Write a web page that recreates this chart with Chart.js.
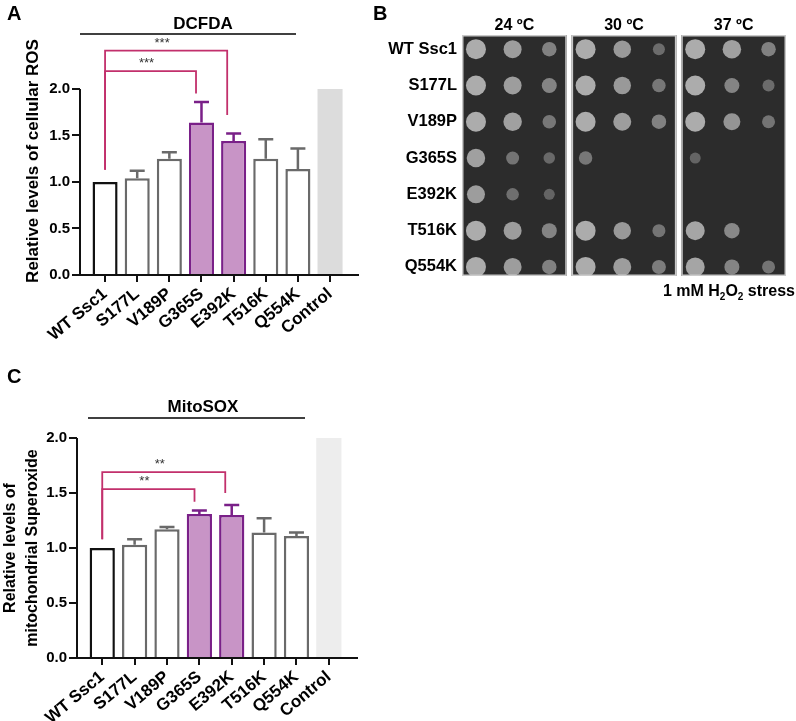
<!DOCTYPE html>
<html>
<head>
<meta charset="utf-8">
<script src="https://cdn.jsdelivr.net/npm/chart.js@4.4.1/dist/chart.umd.min.js"></script>
<style>
  body { margin: 0; background: #fff; width: 796px; height: 721px; position: relative; overflow: hidden; font-family: 'Liberation Sans', Arial, sans-serif; }
  canvas { position: absolute; }
  .panel { position: absolute; font-weight: bold; font-size: 20px; line-height: 20px; color: #000; }
</style>
</head>
<body>
<canvas id="chartA" width="370" height="345" style="left:0;top:0"></canvas>
<canvas id="chartB" width="426" height="300" style="left:370px;top:0"></canvas>
<canvas id="chartC" width="380" height="351" style="left:0;top:370px"></canvas>
<div class="panel" style="left:7px;top:3px">A</div>
<div class="panel" style="left:373px;top:3px">B</div>
<div class="panel" style="left:7px;top:366px">C</div>
<script>
const strains = ['WT Ssc1', 'S177L', 'V189P', 'G365S', 'E392K', 'T516K', 'Q554K', 'Control'];
const yTicks = [0, 0.5, 1.0, 1.5, 2.0];

// DCFDA (panel A)
const rosMean  = [1.00, 1.04, 1.25, 1.64, 1.44, 1.25, 1.14, 2.00];
const rosUpper = [1.00, 1.12, 1.32, 1.86, 1.52, 1.46, 1.36, null];

// MitoSOX (panel C)
const soxMean  = [1.00, 1.03, 1.17, 1.31, 1.30, 1.14, 1.11, 2.00];
const soxUpper = [1.00, 1.08, 1.19, 1.34, 1.39, 1.27, 1.14, null];

// spot assay growth scores per strain, three dilutions (panel B)
const temps = ['24 \u00baC', '30 \u00baC', '37 \u00baC'];
const growth24 = [[1.0, 0.8, 0.45], [1.0, 0.8, 0.5], [1.0, 0.85, 0.35], [0.85, 0.3, 0.15], [0.8, 0.25, 0.1], [1.0, 0.8, 0.5], [1.0, 0.8, 0.45]];
const growth30 = [[1.0, 0.75, 0.2], [1.0, 0.75, 0.35], [1.0, 0.8, 0.45], [0.35, 0, 0], [0, 0, 0], [1.0, 0.75, 0.3], [1.0, 0.8, 0.4]];
const growth37 = [[1.0, 0.85, 0.45], [1.0, 0.5, 0.2], [1.0, 0.7, 0.3], [0.1, 0, 0], [0, 0, 0], [0.9, 0.55, 0.0], [0.9, 0.5, 0.3]];

const PURPLE = '#7a2088', LILAC = '#c894c6', GREY = '#6a6a6a', BLACK = '#111', MAGENTA = '#c2306c';
const borders = [BLACK, GREY, GREY, PURPLE, PURPLE, GREY, GREY, 'rgba(0,0,0,0)'];

const extras = {
  id: 'extras',
  afterDatasetsDraw(chart, args, o) {
    const { ctx, chartArea, scales: { x, y } } = chart;
    ctx.save();
    // error bars
    ctx.lineWidth = 2.5;
    o.upper.forEach((u, i) => {
      if (u == null || u <= o.values[i]) return;
      const px = x.getPixelForValue(i);
      const top = y.getPixelForValue(u);
      ctx.strokeStyle = borders[i];
      ctx.beginPath();
      ctx.moveTo(px, y.getPixelForValue(o.values[i]));
      ctx.lineTo(px, top);
      ctx.moveTo(px - 7.5, top);
      ctx.lineTo(px + 7.5, top);
      ctx.stroke();
    });
    // y axis line up to 2.0
    ctx.strokeStyle = BLACK;
    ctx.lineWidth = 2;
    ctx.beginPath();
    ctx.moveTo(chartArea.left, y.getPixelForValue(0) + 1);
    ctx.lineTo(chartArea.left, y.getPixelForValue(2));
    ctx.stroke();
    // significance brackets
    ctx.strokeStyle = MAGENTA;
    ctx.lineWidth = 1.8;
    ctx.fillStyle = '#333';
    ctx.font = '13px "Liberation Sans", Arial';
    ctx.textAlign = 'center';
    ctx.textBaseline = 'alphabetic';
    o.brackets.forEach(b => {
      const x0 = x.getPixelForValue(b.from), x1 = x.getPixelForValue(b.to);
      const yl = y.getPixelForValue(b.at);
      ctx.beginPath();
      ctx.moveTo(x0, y.getPixelForValue(o.leftDrop));
      ctx.lineTo(x0, yl);
      ctx.lineTo(x1, yl);
      ctx.lineTo(x1, y.getPixelForValue(b.drop));
      ctx.stroke();
      ctx.fillText(b.stars, (x0 + x1) / 2 - 4, yl - 4);
    });
    // group title and line
    ctx.fillStyle = '#000';
    ctx.font = 'bold 17px "Liberation Sans", Arial';
    ctx.textBaseline = 'middle';
    ctx.fillText(o.group, o.groupX, o.groupY);
    ctx.strokeStyle = '#000';
    ctx.lineWidth = 1.5;
    ctx.beginPath();
    ctx.moveTo(o.lineFrom, o.lineY);
    ctx.lineTo(o.lineTo, o.lineY);
    ctx.stroke();
    ctx.restore();
  }
};

function barChart(id, values, upper, yMax, cfg) {
  return new Chart(document.getElementById(id), {
    type: 'bar',
    data: {
      datasets: [{
        data: values.map((v, i) => ({ x: i, y: v })),
        backgroundColor: ['#fff', '#fff', '#fff', LILAC, LILAC, '#fff', '#fff', cfg.controlFill],
        borderColor: borders,
        borderWidth: [2.5, 2.5, 2.5, 2.5, 2.5, 2.5, 2.5, 0],
        borderSkipped: 'bottom',
        categoryPercentage: 1,
        barPercentage: 0.78
      }]
    },
    options: {
      responsive: false,
      animation: false,
      layout: { padding: { top: cfg.top, right: cfg.right, left: 0, bottom: 0 } },
      plugins: {
        legend: { display: false },
        tooltip: { enabled: false },
        extras: {
          values: values, upper: upper, brackets: cfg.brackets, leftDrop: cfg.leftDrop,
          group: cfg.group, groupX: 203, groupY: cfg.groupY,
          lineFrom: cfg.lineFrom, lineTo: cfg.lineTo, lineY: cfg.lineY
        }
      },
      scales: {
        x: {
          type: 'linear',
          offset: false,
          min: -0.78, max: 7.87,
          afterBuildTicks: s => { s.ticks = strains.map((_, i) => ({ value: i })); },
          afterFit: s => { s.height = cfg.xHeight; },
          ticks: {
            callback: v => strains[v],
            autoSkip: false, minRotation: 40, maxRotation: 40,
            color: '#000', padding: 2,
            font: { family: '"Liberation Sans", Arial', size: 17, weight: 'bold' }
          },
          grid: { display: true, offset: false, drawOnChartArea: false, tickLength: 7, tickColor: BLACK, lineWidth: 2 },
          border: { display: true, color: BLACK, width: 2 }
        },
        y: {
          min: 0, max: yMax,
          afterBuildTicks: s => { s.ticks = yTicks.map(v => ({ value: v })); },
          afterFit: s => { s.width = cfg.yWidth; },
          ticks: {
            callback: v => v.toFixed(1),
            color: '#000', padding: 2,
            font: { family: '"Liberation Sans", Arial', size: 15, weight: 'bold' }
          },
          grid: { display: true, drawOnChartArea: false, tickLength: 8, tickColor: BLACK, lineWidth: 2 },
          border: { display: false },
          title: {
            display: true, text: cfg.title, color: '#000',
            font: { family: '"Liberation Sans", Arial', size: cfg.titleSize, weight: 'bold', lineHeight: cfg.titleLH },
            padding: { top: cfg.titlePad, bottom: 0 }
          }
        }
      }
    },
    plugins: [extras]
  });
}

barChart('chartA', rosMean, rosUpper, 2.45, {
  top: 47, right: 12, xHeight: 70, yWidth: 80, controlFill: '#dcdcdc',
  title: 'Relative levels of cellular ROS', titleSize: 17, titleLH: 1.2, titlePad: 23,
  group: 'DCFDA', groupY: 24, lineFrom: 80, lineTo: 296, lineY: 34,
  leftDrop: 1.13,
  brackets: [
    { from: 0, to: 2.83, at: 2.19, drop: 1.95, stars: '***' },
    { from: 0, to: 3.80, at: 2.41, drop: 1.72, stars: '***' }
  ]
});

barChart('chartC', soxMean, soxUpper, 2.0, {
  top: 68, right: 23, xHeight: 63, yWidth: 77, controlFill: '#ededed',
  title: ['Relative levels of', 'mitochondrial Superoxide'], titleSize: 16, titleLH: 1.35, titlePad: 0,
  group: 'MitoSOX', groupY: 37, lineFrom: 88, lineTo: 305, lineY: 48,
  leftDrop: 1.08,
  brackets: [
    { from: 0, to: 2.85, at: 1.536, drop: 1.42, stars: '**' },
    { from: 0, to: 3.80, at: 1.69, drop: 1.50, stars: '**' }
  ]
});

// panel B: spot assay drawn as bubbles
const PANEL_W = 3, PANEL_GAP = 0.14;
const spots = [];
[growth24, growth30, growth37].forEach((tbl, p) => {
  tbl.forEach((row, s) => {
    row.forEach((g, c) => {
      if (g <= 0) return;
      spots.push({ x: p * (PANEL_W + PANEL_GAP) + 0.4 + c * 1.05, y: s, r: 5 + 5 * g, g: g });
    });
  });
});

const plates = {
  id: 'plates',
  beforeDatasetsDraw(chart) {
    const { ctx, chartArea, scales: { x } } = chart;
    ctx.save();
    temps.forEach((t, p) => {
      const l = x.getPixelForValue(p * (PANEL_W + PANEL_GAP));
      const r = x.getPixelForValue(p * (PANEL_W + PANEL_GAP) + PANEL_W);
      ctx.fillStyle = '#2c2c2c';
      ctx.fillRect(l, chartArea.top, r - l, chartArea.bottom - chartArea.top);
      ctx.strokeStyle = '#c8c8c8';
      ctx.lineWidth = 1.5;
      ctx.strokeRect(l + 0.75, chartArea.top + 0.75, r - l - 1.5, chartArea.bottom - chartArea.top - 1.5);
    });
    ctx.restore();
  },
  afterDraw(chart) {
    const { ctx, scales: { x } } = chart;
    ctx.save();
    ctx.fillStyle = '#000';
    ctx.font = 'bold 16px "Liberation Sans", Arial';
    ctx.textAlign = 'center';
    ctx.textBaseline = 'middle';
    temps.forEach((t, p) => {
      ctx.fillText(t, x.getPixelForValue(p * (PANEL_W + PANEL_GAP) + PANEL_W / 2), 26);
    });
    // "1 mM H2O2 stress" with subscripts, right aligned
    const parts = [['1 mM H', 16, 0], ['2', 10, 4], ['O', 16, 0], ['2', 10, 4], [' stress', 16, 0]];
    ctx.textAlign = 'left';
    ctx.textBaseline = 'alphabetic';
    let w = 0;
    parts.forEach(pt => { ctx.font = 'bold ' + pt[1] + 'px "Liberation Sans", Arial'; w += ctx.measureText(pt[0]).width; });
    let cx = chart.width - 1 - w;
    parts.forEach(pt => {
      ctx.font = 'bold ' + pt[1] + 'px "Liberation Sans", Arial';
      ctx.fillText(pt[0], cx, 296 + pt[2]);
      cx += ctx.measureText(pt[0]).width;
    });
    ctx.restore();
  }
};

new Chart(document.getElementById('chartB'), {
  type: 'bubble',
  data: {
    datasets: [{
      data: spots,
      backgroundColor: ctx => {
        const g = ctx.raw ? ctx.raw.g : 0;
        return 'rgba(205,205,205,' + (0.3 + 0.5 * g).toFixed(2) + ')';
      },
      borderWidth: 0
    }]
  },
  options: {
    responsive: false,
    animation: false,
    layout: { padding: { top: 35, right: 0, left: 0, bottom: 24 } },
    plugins: { legend: { display: false }, tooltip: { enabled: false } },
    scales: {
      x: { type: 'linear', display: false, min: 0, max: 3 * PANEL_W + 2 * PANEL_GAP },
      y: {
        type: 'linear', reverse: true, min: -0.39, max: 6.25,
        afterBuildTicks: s => { s.ticks = strains.slice(0, 7).map((_, i) => ({ value: i })); },
        afterFit: s => { s.width = 92; },
        ticks: {
          callback: v => strains[v],
          color: '#000', padding: 5,
          font: { family: '"Liberation Sans", Arial', size: 16.5, weight: 'bold' }
        },
        grid: { display: false, drawTicks: false },
        border: { display: false }
      }
    }
  },
  plugins: [plates]
});
</script>
</body>
</html>
